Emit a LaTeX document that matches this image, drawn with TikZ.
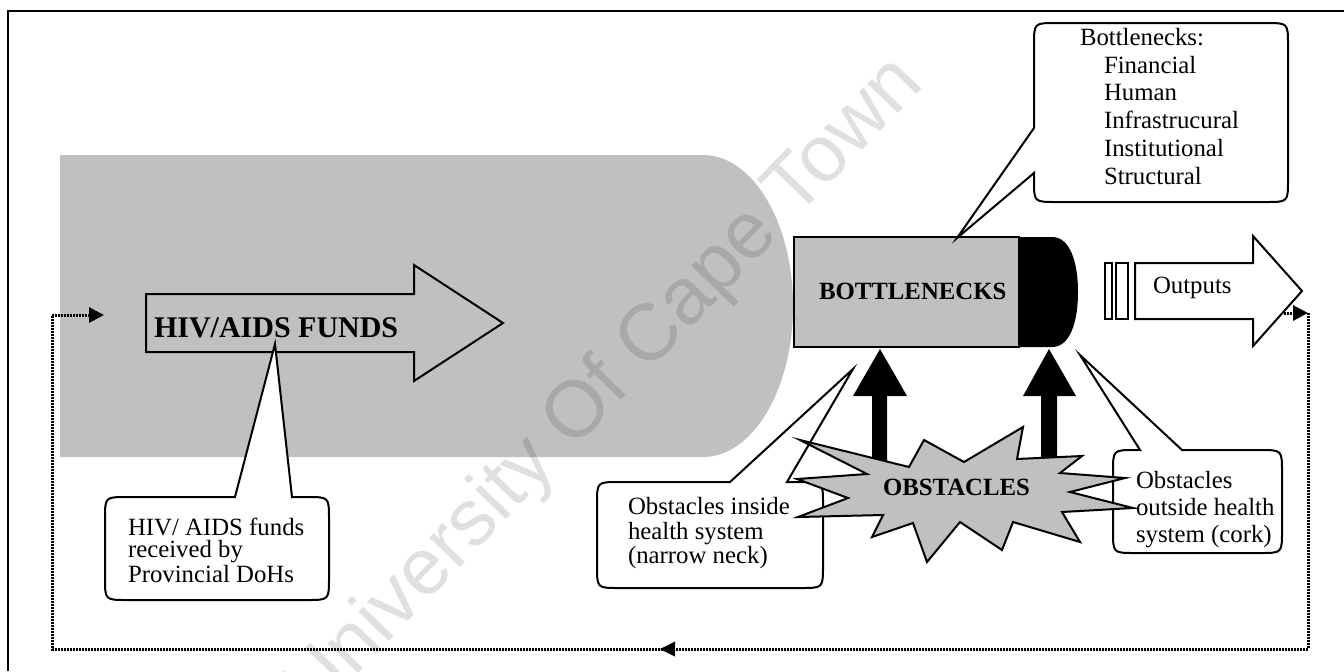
\documentclass[tikz,border=0pt]{standalone}
\usepackage{fontspec}
\setmainfont{Liberation Serif}
\newfontfamily\wmfont{Liberation Sans}
\usetikzlibrary{arrows.meta}
\definecolor{fillgray}{HTML}{C0C0C0}

\begin{document}
\begin{tikzpicture}[x={(0.5pt,0)}, y={(0,-0.5pt)},
  outline/.style={draw=black, line width=1pt, line join=miter},
  calloutbox/.style={draw=black, line width=1pt, fill=white, line join=miter},
  txt/.style={inner sep=0pt, outer sep=0pt},
  normaltxt/.style={font=\fontsize{12.4}{13.6}\selectfont},
  boldtxt/.style={font=\bfseries\fontsize{12.4}{13.6}\selectfont},
  loopline/.style={line width=1.5pt, dash pattern=on 1pt off 0.5pt},
  looptip/.style={-{Triangle[length=7.5pt,width=7.5pt]}},
]
\useasboundingbox (0,0) rectangle (1344,671);
\fill[white] (0,0) rectangle (1344,671);

% page frame
\draw[line width=1pt] (7.5,671) -- (7.5,11) -- (1344,11);

% bottle body
\fill[fillgray] (60,155) -- (703,155)
  .. controls (752.7,155) and (793,222.6) .. (793,306)
  .. controls (793,389.4) and (752.7,457) .. (703,457) -- (60,457) -- cycle;

% watermark
\node[txt, font=\wmfont\fontsize{40}{40}\selectfont, text=black, text opacity=0.12,
      rotate=46, anchor=base] (wm) at (620,402) {University Of Cape Town};

% funds arrow
\draw[outline, fill=fillgray] (146,294) -- (414,294) -- (414,265) -- (503,323)
  -- (414,381) -- (414,352) -- (146,352) -- cycle;
\node[txt, font=\bfseries\fontsize{15}{15}\selectfont, anchor=base west] (funds) at (154,337) {HIV/AIDS FUNDS};

% callout: funds received
\draw[calloutbox] (235,497) -- (275,344) -- (292,497) -- (307,497)
  .. controls (329,497) .. (329,519) -- (329,578)
  .. controls (329,600) .. (307,600) -- (127,600)
  .. controls (105,600) .. (105,578) -- (105,519)
  .. controls (105,497) .. (127,497) -- cycle;
\node[txt, align=left, anchor=north west, font=\fontsize{12.4}{11.2}\selectfont] (doh) at (128,518)
  {HIV/ AIDS funds\\received by\\Provincial DoHs};

% bottleneck neck and cork
\draw[outline, fill=fillgray] (794,237) rectangle (1019,347);
\fill[black] (1019,237) -- (1052,237) .. controls (1070,237) and (1078,262) .. (1078,292)
  .. controls (1078,322) and (1070,347) .. (1052,347) -- (1019,347) -- cycle;
\node[txt, boldtxt, anchor=base west] (bneck) at (819,299) {BOTTLENECKS};

% callout: list of bottlenecks
\draw[calloutbox] (1034,173) -- (957,238) -- (1034,128) -- (1034,45)
  .. controls (1034,23) .. (1056,23) -- (1266,23)
  .. controls (1288,23) .. (1288,45) -- (1288,180)
  .. controls (1288,202) .. (1266,202) -- (1056,202)
  .. controls (1034,202) .. (1034,180) -- cycle;
\node[txt, align=left, anchor=north west, font=\fontsize{12.4}{13.9}\selectfont] (blist) at (1080,28)
  {Bottlenecks:\\\hspace*{12pt}Financial\\\hspace*{12pt}Human\\\hspace*{12pt}Infrastrucural\\\hspace*{12pt}Institutional\\\hspace*{12pt}Structural};

% outputs
\draw[outline] (1105,263) rectangle (1112,319);
\draw[outline] (1116,263) rectangle (1128,319);
\draw[outline, fill=white] (1135,263) -- (1253,263) -- (1253,236) -- (1302,291)
  -- (1253,346) -- (1253,319) -- (1135,319) -- cycle;
\node[txt, normaltxt, anchor=base west] (outputs) at (1153,293) {Outputs};

% feedback loop
\coordinate (loopstart) at (1284,313);
\coordinate (loopR) at (1308,313);
\coordinate (loopBR) at (1308,649);
\coordinate (loopmid) at (660,649);
\coordinate (loopmidtail) at (672,649);
\coordinate (loopBL) at (52,649);
\coordinate (loopTL) at (52,315);
\coordinate (loopend) at (104,315);
\draw[loopline, looptip] (loopstart) -- (loopR);
\draw[loopline] (loopR) -- (loopBR) -- (loopmid);
\fill (loopmid) -- ++(15,-7.5) -- ++(0,15) -- cycle;
\draw[loopline, looptip] (loopmidtail) -- (loopBL) -- (loopTL) -- (loopend);

% callout: obstacles inside
\draw[calloutbox] (730,482) -- (853,369) -- (787,482) -- (801,482)
  .. controls (823,482) .. (823,504) -- (823,566)
  .. controls (823,588) .. (801,588) -- (619,588)
  .. controls (597,588) .. (597,566) -- (597,504)
  .. controls (597,482) .. (619,482) -- cycle;
\node[txt, align=left, anchor=north west, font=\fontsize{12.4}{12.2}\selectfont] (inside) at (628,497.5)
  {Obstacles inside\\health system\\(narrow neck)};

% callout: obstacles outside
\draw[calloutbox] (1140,450) -- (1080,355) -- (1182,450) -- (1260,450)
  .. controls (1282,450) .. (1282,472) -- (1282,531)
  .. controls (1282,553) .. (1260,553) -- (1135,553)
  .. controls (1113,553) .. (1113,531) -- (1113,472)
  .. controls (1113,450) .. (1135,450) -- cycle;
\node[txt, align=left, anchor=north west, font=\fontsize{12.4}{13.4}\selectfont] (outside) at (1136,471.5)
  {Obstacles\\outside health\\system (cork)};

% pushing arrows
\fill[black] (872,470) -- (872,396) -- (853,396) -- (880,349) -- (907,396) -- (887,396) -- (887,470) -- cycle;
\fill[black] (1041,470) -- (1041,396) -- (1023,396) -- (1049,349) -- (1076,396) -- (1057,396) -- (1057,470) -- cycle;

% obstacles burst
\draw[outline, fill=fillgray] (800,440) -- (909,467) -- (924,440) -- (964,462) -- (1023,427)
  -- (1017,459) -- (1082,456) -- (1060,473) -- (1125,478) -- (1070,492) -- (1133,508)
  -- (1062,512) -- (1080,542) -- (1013,522) -- (1002,550) -- (960,522) -- (927,562)
  -- (913,523) -- (872,537) -- (883,515) -- (798,517) -- (848,498) -- (797,479)
  -- (867,474) -- cycle;
\node[txt, boldtxt, anchor=base west] (obst) at (883,495) {OBSTACLES};
\end{tikzpicture}
\end{document}
